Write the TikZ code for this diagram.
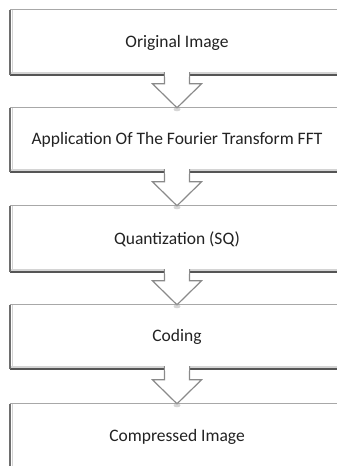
\documentclass[tikz,border=0pt]{standalone}
\usepackage{fontspec}
\setmainfont{Carlito}
\usetikzlibrary{calc}
\definecolor{txt}{HTML}{222222}
\definecolor{topc}{HTML}{A8A8A8}
\definecolor{leftc}{HTML}{6E6E6E}
\definecolor{botc}{HTML}{555555}
\definecolor{lightc}{HTML}{D4D4D4}
\definecolor{arrc}{HTML}{8A8A8A}
\tikzset{
  stepbox/.style={rectangle, fill=white, draw=none, minimum width=334pt, inner sep=0pt,
    font=\fontsize{17.5}{20}\selectfont, text=txt},
  topline/.style={draw=topc, line width=1.3pt},
  leftline/.style={draw=leftc, line width=1.8pt},
  leftin/.style={draw=lightc, line width=1pt},
  botline/.style={draw=botc, line width=2.6pt},
  botin/.style={draw=lightc, line width=1.2pt},
  blockarrow/.style={draw=arrc, line width=1.2pt, fill=white, line join=miter},
}
\newcommand{\edges}[1]{%
  \draw[topline] (#1.north west) -- (#1.north east);
  \draw[botin] ($(#1.south west)+(1.5,-2.2)$) -- ($(#1.south east)+(0,-2.2)$);
  \draw[botline] ($(#1.south west)+(0,-0.3)$) -- ($(#1.south east)+(0,-0.3)$);
  \draw[leftin] ($(#1.north west)+(2.2,0.6)$) -- ($(#1.south west)+(2.2,-1.5)$);
  \draw[leftline] ($(#1.north west)+(0.5,0)$) -- ($(#1.south west)+(0.5,0)$);
}
\newcommand{\barrow}[2]{%
  \coordinate (t) at ($(#1.south)+(0,-3)$);
  \coordinate (h) at ($(#2.north)+(0,-24)$);
  \fill[white] ($(t)+(-12.5,0)$) rectangle ($(t)+(12.5,4.3)$);
  \filldraw[blockarrow] ($(t)+(-12.5,0)$) -- ($(h)+(-12.5,0)$) -- ($(h)+(-24.5,0)$)
     -- (#2.north) -- ($(h)+(24.5,0)$) -- ($(h)+(12.5,0)$) -- ($(t)+(12.5,0)$);
  \fill[white] ($(t)+(-11.9,0)$) rectangle ($(t)+(11.9,4.3)$);
  \fill[black!35, opacity=0.45] ($(#2.north)+(0,1.5)$) ellipse (3.5 and 2);
}
\begin{document}
\begin{tikzpicture}[x=1pt, y=-1pt]
\useasboundingbox (0,0) rectangle (337,466);
\clip (0,0) rectangle (337,466);
\fill[white] (0,0) rectangle (337,466);
\node[stepbox, minimum height=65pt] (b1) at (177,42.5) {Original Image};
\node[stepbox, minimum height=64pt] (b2) at (177,140) {Application Of The Fourier Transform FFT};
\node[stepbox, minimum height=66pt] (b3) at (177,239) {Quantization (SQ)};
\node[stepbox, minimum height=64pt] (b4) at (177,337) {Coding};
\node[stepbox, minimum height=66pt] (b5) at (177,437) {Compressed Image};
\edges{b1}\edges{b2}\edges{b3}\edges{b4}\edges{b5}
\barrow{b1}{b2}
\barrow{b2}{b3}
\barrow{b3}{b4}
\barrow{b4}{b5}
\end{tikzpicture}
\end{document}
